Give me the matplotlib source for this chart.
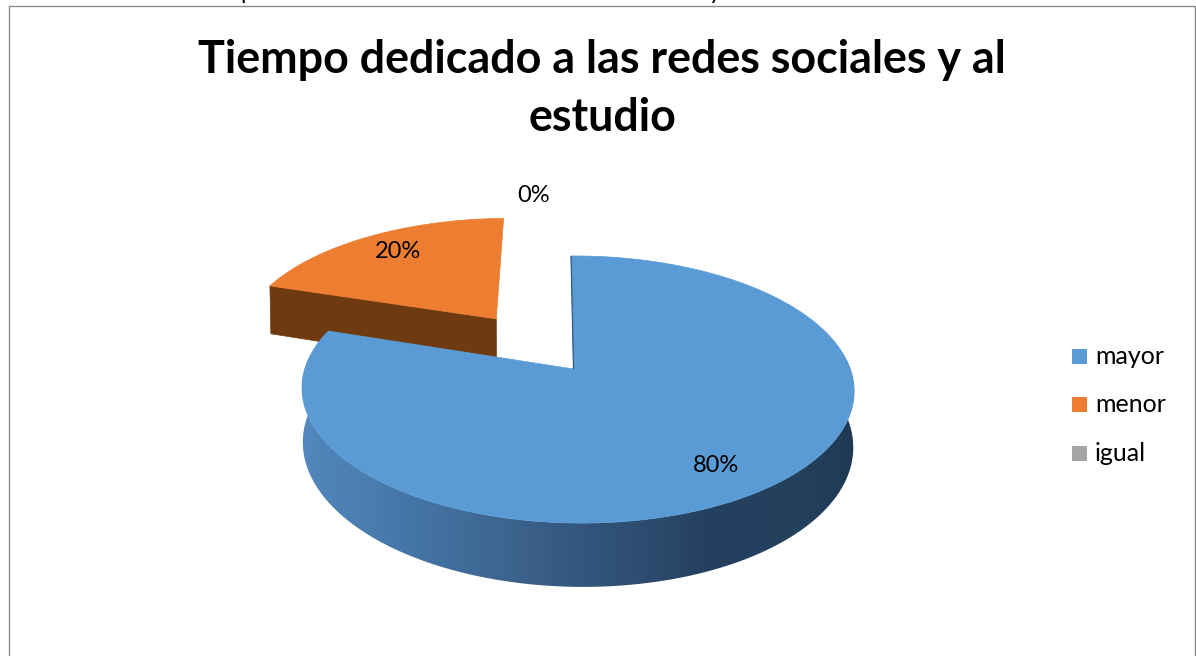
import numpy as np
import matplotlib
matplotlib.use("Agg")
import matplotlib.pyplot as plt
from matplotlib.patches import Polygon, Rectangle

# ---- data ----
categories = ["mayor", "menor", "igual"]
values = [80, 20, 0]
title_lines = ["Tiempo dedicado a las redes sociales y al", "estudio"]
colors = ["#5b9bd5", "#ed7d31", "#a5a5a5"]

FONT = "Lato"
W, H = 1196, 656

fig = plt.figure(figsize=(W / 100, H / 100), dpi=100, facecolor="white")
ax = fig.add_axes([0, 0, 1, 1])
ax.set_xlim(0, W)
ax.set_ylim(H, 0)
ax.axis("off")

# ---- projection of the 3-D pie ----
AX, AY = 573.5, 369.0
RX, RY = 272.7, 130.4
K, M, SHEAR = 0.1536, 0.0147, 0.022
DEPTH = 54.0
SHRINK = 0.997


def project(u, v, drop=0.0):
    den = 1 + K * v - M * u
    X = RX * u / den
    Y = RY * v / den
    if drop:
        X = X * SHRINK
    return AX + X - SHEAR * Y, AY - Y + drop / den


fractions = np.array(values, dtype=float) / sum(values)
edges = np.concatenate([[0], np.cumsum(fractions)]) * 2 * np.pi
explode = [0.0, 0.507, 0.0]

# side shading of the main slice, by x position
sx = [302, 430, 500, 570, 650, 700, 800, 853]
side_stops = np.array([[0x52, 0x88, 0xbd], [0x43, 0x72, 0xa2], [0x3e, 0x66, 0x90],
                       [0x35, 0x58, 0x80], [0x2c, 0x4b, 0x6e], [0x25, 0x41, 0x60],
                       [0x23, 0x40, 0x5d], [0x1f, 0x3a, 0x55]]) / 255


def wedge(a0, a1, e):
    mid = (a0 + a1) / 2
    ou, ov = e * np.sin(mid), e * np.cos(mid)
    t = np.linspace(a0, a1, 300)
    return ou, ov, ou + np.sin(t), ov + np.cos(t)


# exploded orange slice
ou, ov, us, vs = wedge(edges[1], edges[2], explode[1])
xa, ya = project(ou, ov)
xa2, ya2 = project(ou, ov, DEPTH)
xl, yl = project(us[0], vs[0])
xl2, yl2 = project(us[0], vs[0], DEPTH)
ax.add_patch(Polygon([(xa, ya), (xl, yl), (xl2, yl2), (xa2, ya2)],
                     closed=True, fc="#703a10", ec="#703a10", lw=0.5, zorder=2))
px, py = project(us, vs)
ax.add_patch(Polygon(np.column_stack([np.r_[xa, px], np.r_[ya, py]]),
                     closed=True, fc=colors[1], ec=colors[1], lw=0.5, zorder=3))

# main blue slice: side (a clipped horizontal gradient), then top
ou, ov, us, vs = wedge(edges[0], edges[1], explode[0])
tx, ty = project(us, vs)
bx, by = project(us, vs, DEPTH)
front = vs < 0.35
side_poly = Polygon(np.column_stack([np.r_[tx[front], bx[front][::-1]],
                                     np.r_[ty[front], by[front][::-1]]]),
                    closed=True, transform=ax.transData, fc="none", ec="none")
ax.add_patch(side_poly)
gx = np.arange(sx[0] - 4, sx[-1] + 4)
grad = np.stack([np.interp(gx, sx, side_stops[:, i]) for i in range(3)], axis=-1)[None, :, :]
im = ax.imshow(grad, extent=[gx[0], gx[-1], 620, 360], aspect="auto",
               interpolation="bilinear", zorder=4)
im.set_clip_path(side_poly)
ax.set_xlim(0, W)
ax.set_ylim(H, 0)
xa, ya = project(ou, ov)
ax.add_patch(Polygon(np.column_stack([np.r_[xa, tx], np.r_[ya, ty]]),
                     closed=True, fc=colors[0], ec=colors[0], lw=0.5, zorder=5))
ax.plot([xa, tx[0]], [ya, ty[0]], color="#2c5074", lw=0.8, zorder=6, solid_capstyle="butt")

# percentage labels
label_xy = [(716, 465), (398, 251), (534, 195)]
for val, (lx, ly) in zip(fractions, label_xy):
    ax.text(lx, ly, f"{val * 100:.0f}%", ha="center", va="center", fontsize=17,
            family=FONT, color="black", zorder=8)

# title
for line, y in zip(title_lines, (60, 118)):
    ax.text(602, y, line, ha="center", va="center", fontsize=32.3, fontweight="bold",
            family=FONT, color="black", zorder=8)

# legend
for name, col, y in zip(categories, colors, (356.5, 404.5, 453.5)):
    ax.add_patch(Rectangle((1072, y - 7.5), 15, 15, fc=col, ec="none", zorder=8))
    ax.text(1095, y, name, ha="left", va="center", fontsize=18, family=FONT, color="black", zorder=8)

# chart frame and the clipped text above it
ax.plot([9, 9, 1195, 1195], [H, 6, 6, H], color="#8c8c8c", lw=1.0, zorder=9)
ax.text(247, -1, "p", ha="center", va="baseline", fontsize=17, family=FONT, color="black", zorder=9)
ax.text(715, -1, "y", ha="center", va="baseline", fontsize=17, family=FONT, color="black", zorder=9)

fig.savefig("out.png", dpi=100, facecolor="white")
